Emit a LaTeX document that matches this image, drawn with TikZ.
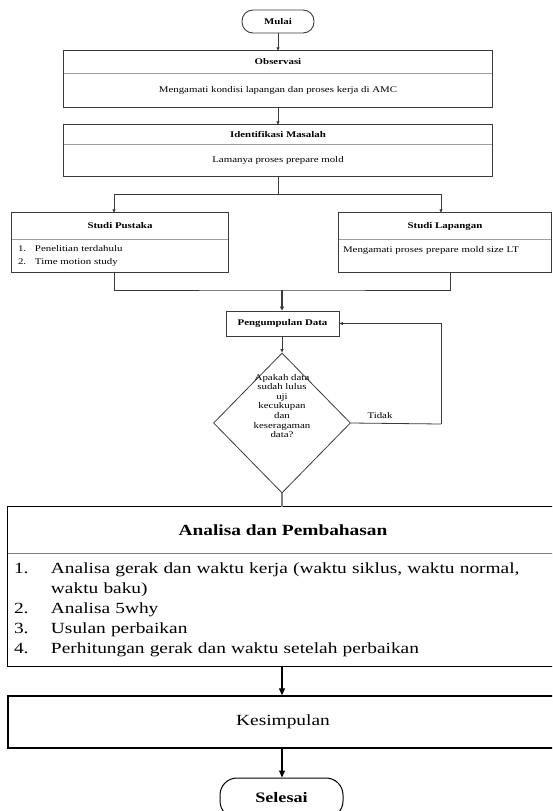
\documentclass[tikz,border=0pt]{standalone}
\usepackage{fontspec}
\setmainfont{Liberation Serif}[FakeStretch=1.25]
\usetikzlibrary{shapes.geometric,arrows.meta}
\newcommand\fsS{\fontsize{8.7}{9.6}\selectfont}
\newcommand\fsL{\fontsize{15.5}{20}\selectfont}
\definecolor{linec}{HTML}{3A3A3A}
\definecolor{divc}{HTML}{A0A0A0}
\begin{document}
\begin{tikzpicture}[x=1pt,y=-1pt,
  part/.style={rectangle, draw=none, inner sep=0pt, font=\fsS},
  frame/.style={draw=linec, line width=0.9pt},
  frameB/.style={draw=black, line width=1.3pt},
  divl/.style={draw=divc, line width=0.8pt},
  divlB/.style={draw=gray, line width=1pt},
  ln/.style={draw=linec, line width=0.8pt},
  arr/.style={draw=linec, line width=0.8pt, -{Triangle[length=3.5pt,width=3pt]}},
  arrT/.style={draw=linec, line width=1.6pt, -{Triangle[length=4pt,width=4pt]}},
  arrB/.style={draw=black, line width=1.1pt, -{Triangle[length=7pt,width=6pt]}},
  term/.style={draw=linec, line width=0.9pt, rectangle, inner sep=0pt},
  dia/.style={diamond, draw=linec, line width=0.8pt, inner sep=0pt, minimum width=137pt, minimum height=140pt}
]
\useasboundingbox (0,0) rectangle (552,811);
\clip (0,0) rectangle (552,811);

% Mulai
\node[term, rounded corners=11pt, minimum width=72pt, minimum height=23pt, font=\fsS] (mulai) at (278,21.5) {\textbf{Mulai}};

% Observasi
\node[part, minimum width=428pt, minimum height=22pt] (obsT) at (278,62) {\textbf{Observasi}};
\node[part, minimum width=428pt, minimum height=34pt, anchor=north] (obsB) at (obsT.south) {Mengamati kondisi lapangan dan proses kerja di AMC};
\draw[frame] (obsT.north west) rectangle (obsB.south east);
\draw[divl] (obsT.south west) -- (obsT.south east);

% Identifikasi
\node[part, minimum width=428pt, minimum height=19pt] (idT) at (278,134.5) {\textbf{Identifikasi Masalah}};
\node[part, minimum width=428pt, minimum height=32pt, anchor=north] (idB) at (idT.south) {Lamanya proses prepare mold};
\draw[frame] (idT.north west) rectangle (idB.south east);
\draw[divl] (idT.south west) -- (idT.south east);

% Studi Pustaka
\node[part, minimum width=216pt, minimum height=26pt] (spT) at (120,226) {\textbf{Studi Pustaka}};
\node[part, minimum width=216pt, minimum height=33pt, anchor=north, text width=204pt, inner xsep=6pt, align=left, font=\fontsize{8.7}{13}\selectfont] (spB) at (spT.south) {\makebox[17pt][l]{1.}Penelitian terdahulu\\\makebox[17pt][l]{2.}Time motion study};
\draw[frame] (spT.north west) rectangle (spB.south east);
\draw[divl] (spT.south west) -- (spT.south east);

% Studi Lapangan
\node[part, minimum width=212pt, minimum height=26pt] (slT) at (445,226) {\textbf{Studi Lapangan}};
\node[part, minimum width=212pt, minimum height=33pt, anchor=north, text width=204pt, inner xsep=4pt, align=left, font=\fontsize{8.7}{13}\selectfont] (slB) at (slT.south) {Mengamati proses prepare mold size LT\\\mbox{}};
\draw[frame] (slT.north west) rectangle (slB.south east);
\draw[divl] (slT.south west) -- (slT.south east);

% Pengumpulan Data
\node[term, minimum width=113pt, minimum height=25pt, font=\fsS] (pd) at (282.5,323.5) {\textbf{Pengumpulan Data}};

% Decision
\node[dia] (dec) at (282,423) {};
\node[font=\fsS, align=center, inner sep=0pt] (dectext) at (282,406) {Apakah data\\sudah lulus\\uji\\kecukupan\\dan\\keseragaman\\data?};
\node[font=\fsS, inner sep=0pt] (tidak) at (380,416) {Tidak};

% Analisa dan Pembahasan
\node[part, minimum width=550pt, minimum height=46pt, font=\fsL] (anT) at (283,530) {\textbf{Analisa dan Pembahasan}};
\node[part, minimum width=550pt, minimum height=113pt, anchor=north, text width=538pt, inner xsep=6pt, align=left, font=\fsL] (anB) at (anT.south) {\makebox[37pt][l]{1.}Analisa gerak dan waktu kerja (waktu siklus, waktu normal,\\\hspace*{37pt}waktu baku)\\\makebox[37pt][l]{2.}Analisa 5why\\\makebox[37pt][l]{3.}Usulan perbaikan\\\makebox[37pt][l]{4.}Perhitungan gerak dan waktu setelah perbaikan};
\draw[frameB] (anT.north west) rectangle (anB.south east);
\draw[divlB] (anT.south west) -- (anT.south east);

% Kesimpulan
\node[rectangle, draw=black, line width=1.3pt, minimum width=550pt, minimum height=52pt, font=\fsL] (kes) at (283,722) {Kesimpulan};

% Selesai
\node[rectangle, draw=black, line width=1pt, rounded corners=17pt, minimum width=123pt, minimum height=40pt, font=\fontsize{14.5}{17}\selectfont] (sel) at (281.5,798) {\textbf{Selesai}};

% connectors
\coordinate (split) at (278,194);
\coordinate (merge) at (282,290);
\coordinate (loopc) at (441,424);
\draw[arr] (mulai.south) -- (obsT.north);
\draw[arr] (obsB.south) -- (idT.north);
\draw[ln] (idB.south) -- (split);
\draw[arr] (split) -| ([xshift=-6pt]spT.north);
\draw[arr] (split) -| ([xshift=-4pt]slT.north);
\draw[ln] ([xshift=-6pt]spB.south) |- (merge) -| ([xshift=5pt]slB.south);
\draw[arrT] (merge) -- (merge |- pd.north);
\draw[arr] (pd.south -| dec.north) -- (dec.north);
\draw[ln] (dec.east) -- (loopc);
\draw[arr] (loopc) |- (pd.east);
\draw[draw=gray, line width=1.6pt] (dec.south) -- (dec.south |- anT.north);
\draw[arrB] (anB.south -| dec.south) -- (kes.north -| dec.south);
\draw[arrB] (kes.south -| dec.south) -- (sel.north -| dec.south);
\end{tikzpicture}
\end{document}
